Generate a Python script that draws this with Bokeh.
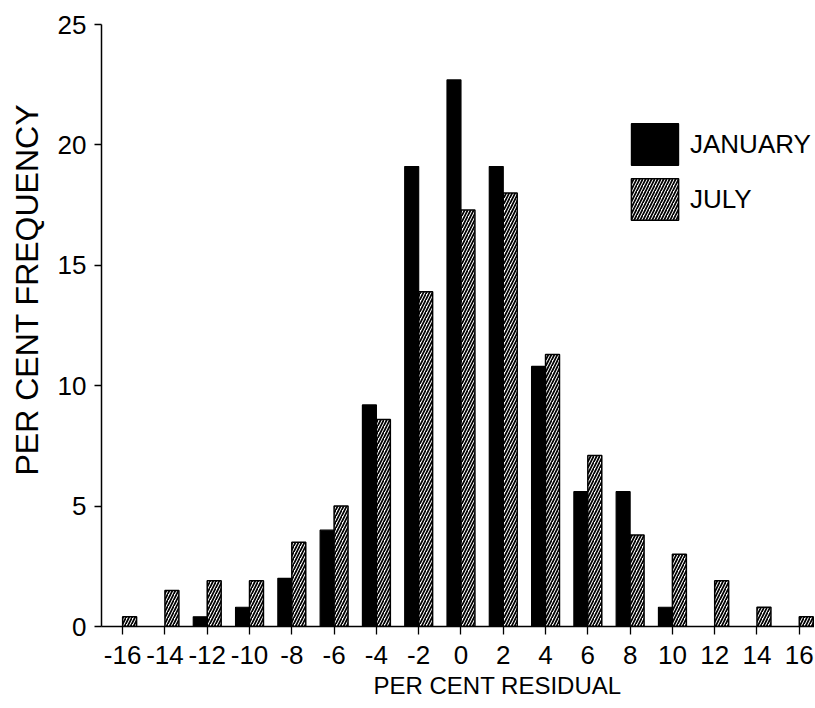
import numpy as np
from bokeh.plotting import figure
from bokeh.models import ColumnDataSource, Range1d, Legend, LegendItem, Title, FixedTicker
from bokeh.embed import file_html
from bokeh.resources import INLINE

# ---- data ----
residual = [-16, -14, -12, -10, -8, -6, -4, -2, 0, 2, 4, 6, 8, 10, 12, 14, 16]
january = [0.0, 0.0, 0.4, 0.8, 2.0, 4.0, 9.2, 19.1, 22.7, 19.1, 10.8, 5.6, 5.6, 0.8, 0.0, 0.0, 0.0]
july = [0.4, 1.5, 1.9, 1.9, 3.5, 5.0, 8.6, 13.9, 17.3, 18.0, 11.3, 7.1, 3.8, 3.0, 1.9, 0.8, 0.4]
x_tick_labels = ["-16", "-14", "-12", "-10", "-8", "-6", "-4", "-2", "0",
                 "2", "4", "6", "8", "10", "12", "14", "16"]
y_ticks = [0, 5, 10, 15, 20, 25]

FONT = "Liberation Sans"
BAR_W = 0.66

res = np.array(residual, dtype=float)
src = ColumnDataSource(dict(
    x_jan=res - BAR_W / 2,
    x_jul=res + BAR_W / 2,
    jan=january,
    jul=july,
))

p = figure(width=814, height=708, output_backend="svg", toolbar_location=None,
           x_range=Range1d(-17, 16.72), y_range=Range1d(0, 25),
           min_border_left=100, min_border_right=0, min_border_top=24, min_border_bottom=82)
p.outline_line_color = None
p.grid.visible = False
p.background_fill_color = "white"

r_jan = p.vbar(x="x_jan", top="jan", width=BAR_W, bottom=0, source=src,
               fill_color="black", line_color="black", line_width=1.2)
r_jul = p.vbar(x="x_jul", top="jul", width=BAR_W, bottom=0, source=src,
               fill_color="white", line_color="black", line_width=1.5,
               hatch_pattern="/", hatch_color="black", hatch_scale=6, hatch_weight=1.7)

# axes
for ax in (p.xaxis[0], p.yaxis[0]):
    ax.axis_line_color = "black"
    ax.axis_line_width = 1.5
    ax.major_tick_line_color = "black"
    ax.major_tick_line_width = 1.3
    ax.major_tick_in = 0
    ax.minor_tick_line_color = None
    ax.major_label_text_font = FONT
    ax.major_label_text_font_size = "26px"
    ax.major_label_text_color = "black"

p.xaxis[0].ticker = FixedTicker(ticks=residual)
p.xaxis[0].major_label_overrides = {t: s for t, s in zip(residual, x_tick_labels)}
p.xaxis[0].major_tick_out = 8
p.xaxis[0].major_label_standoff = 11
p.yaxis[0].ticker = FixedTicker(ticks=y_ticks)
p.yaxis[0].major_tick_out = 7
p.yaxis[0].major_label_standoff = 8

# axis titles, offset like the reference
p.add_layout(Title(text="PER CENT RESIDUAL", align="left", offset=272, standoff=7,
                   text_font=FONT, text_font_size="24px", text_font_style="normal",
                   text_color="black"), "below")
p.add_layout(Title(text="PER CENT FREQUENCY", align="left", offset=151, standoff=16,
                   vertical_align="top",
                   text_font=FONT, text_font_size="32px", text_font_style="normal",
                   text_color="black"), "left")

legend = Legend(items=[LegendItem(label="JANUARY", renderers=[r_jan]),
                       LegendItem(label="JULY", renderers=[r_jul])],
                location=(524, 401), orientation="vertical",
                glyph_width=59, glyph_height=52, spacing=3, padding=0, margin=0,
                label_standoff=6, label_text_font=FONT, label_text_font_size="26px",
                label_text_color="black", border_line_color=None, background_fill_alpha=0)
p.add_layout(legend)

open("out.html", "w").write(file_html(p, INLINE))
